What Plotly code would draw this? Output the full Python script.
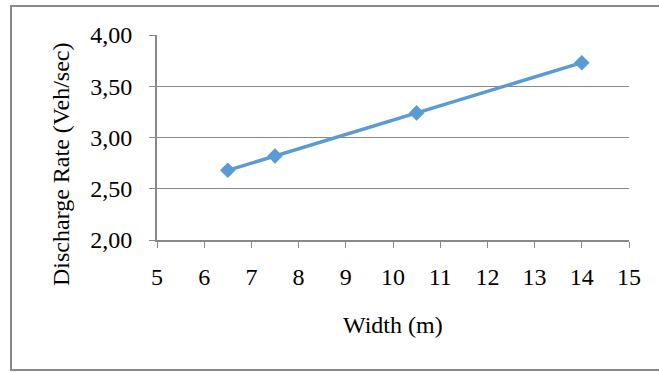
import plotly.graph_objects as go

width_m = [6.5, 7.5, 10.5, 14]
discharge_rate = [2.68, 2.82, 3.24, 3.73]
x_ticks = list(range(5, 16))
y_ticks = [2.0, 2.5, 3.0, 3.5, 4.0]

W, H = 659, 372
L, R, T, B = 157, 30, 35, 132
pw, ph = W - L - R, H - T - B

def px(x):
    return (x - L) / pw

def py(y):
    return (H - B - y) / ph

FONT = "Liberation Serif, Times New Roman, serif"
GRID = "#898989"
FS = 24

fig = go.Figure()
fig.add_trace(go.Scatter(
    x=width_m, y=discharge_rate, mode="lines+markers",
    line=dict(color="#5B9BD5", width=3.5),
    marker=dict(symbol="diamond", size=12, color="#5B9BD5"),
    showlegend=False, cliponaxis=False,
))

fig.update_layout(
    width=W, height=H,
    margin=dict(l=L, r=R, t=T, b=B),
    paper_bgcolor="white", plot_bgcolor="white",
    separators=",.",
    font=dict(family=FONT, size=FS, color="black"),
    xaxis=dict(
        range=[5, 15], tickvals=x_ticks, ticktext=[str(v) for v in x_ticks],
        showgrid=False, showline=True, linecolor=GRID, linewidth=2,
        ticks="outside", ticklen=6, tickcolor=GRID, tickwidth=1,
        zeroline=False, ticklabelstandoff=8,
    ),
    yaxis=dict(
        range=[2, 4], tickvals=y_ticks, tickformat=".2f",
        showgrid=True, gridcolor=GRID, gridwidth=1,
        showline=True, linecolor=GRID, linewidth=2,
        ticks="outside", ticklen=6, tickcolor=GRID, tickwidth=1,
        zeroline=False, ticklabelstandoff=12,
    ),
    shapes=[dict(
        type="rect", xref="paper", yref="paper",
        x0=px(11), x1=px(663), y0=py(370), y1=py(6),
        line=dict(color="#898989", width=2), fillcolor="rgba(0,0,0,0)",
        layer="below",
    )],
    annotations=[
        dict(text="Width (m)", xref="paper", yref="paper",
             x=px(393), y=py(325), showarrow=False,
             xanchor="center", yanchor="middle", font=dict(size=FS)),
        dict(text="Discharge Rate (Veh/sec)", xref="paper", yref="paper",
             x=px(61), y=py(165), showarrow=False, textangle=-90,
             xanchor="center", yanchor="middle", font=dict(size=FS)),
    ],
)

fig.write_html("out.html", config={"displayModeBar": False},
               post_script="document.body.style.margin='0';")
